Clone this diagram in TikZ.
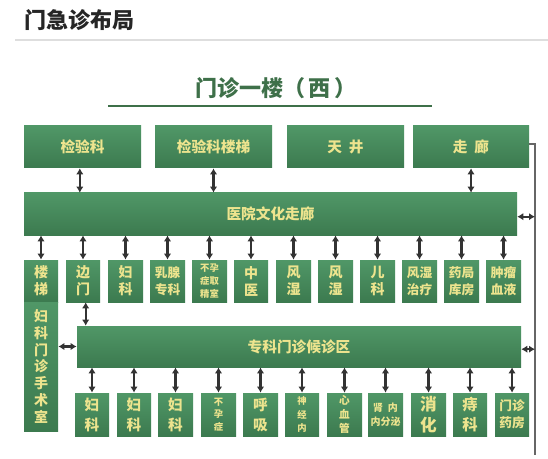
\documentclass[tikz,border=0pt]{standalone}
\usepackage{fontspec}
\newfontfamily\cjk{Noto Sans CJK SC}
\usetikzlibrary{arrows.meta}
\definecolor{gtop}{HTML}{509767}
\definecolor{gbot}{HTML}{3C7A4F}
\definecolor{tx}{HTML}{EDE48E}
\definecolor{ttl}{HTML}{3E7049}
\definecolor{arr}{HTML}{333333}
\newcommand\gbox[7][]{\node[gbox, #1, minimum width={(#5-#3)*0.75pt}, minimum height={(#6-#4)*0.75pt}] (#2) at ({(#3+#5)/2},{(#4+#6)/2}) {#7};}
\tikzset{
  gbox/.style={rectangle, draw=none, top color=gtop, bottom color=gbot, text=tx, inner sep=0pt, align=center, font=\cjk\bfseries\fontsize{10.5}{12.75}\selectfont},
  dar/.style={draw=arr, line width=1.6pt, {Latex[length=4.5pt,width=5.5pt]}-{Latex[length=4.5pt,width=5.5pt]}},
}
\begin{document}
\begin{tikzpicture}[x=0.75pt,y=-0.75pt]
\useasboundingbox (0,0) rectangle (548,459);
\fill[white] (0,0) rectangle (548,459);
% header
\node[anchor=west, text=black!85, font=\cjk\bfseries\fontsize{16.5}{19}\selectfont, inner sep=0pt] (title) at (24,20) {门急诊布局};
\draw[black!13, line width=0.8pt] (15,40) -- (548,40);
\node[text=ttl, font=\cjk\bfseries\fontsize{16.5}{19}\selectfont, inner sep=0pt] (sub) at (276,88) {门诊一楼（\,西\,）};
\draw[ttl, line width=1.4pt] (108,106) -- (432,106);
% top row
\gbox[font=\cjk\bfseries\fontsize{11}{13}\selectfont]{jyk}{24}{126}{141}{168}{检验科}
\gbox[font=\cjk\bfseries\fontsize{11}{13}\selectfont]{jykl}{155}{126}{272}{168}{检验科楼梯}
\gbox[font=\cjk\bfseries\fontsize{11}{13}\selectfont]{tj}{287}{126}{404}{168}{天\ \ 井}
\gbox[font=\cjk\bfseries\fontsize{11}{13}\selectfont]{zl}{413}{126}{529}{168}{走\ \ 廊}
% corridor
\gbox[font=\cjk\bfseries\fontsize{11}{13}\selectfont]{yy}{24}{193}{517}{235}{医院文化走廊}
% second row
\gbox{lt}{24}{260}{58}{302}{楼\\梯}
\gbox[font=\cjk\bfseries\fontsize{10.5}{12.6}\selectfont]{fsk}{24}{302}{58}{431}{妇\\科\\门\\诊\\手\\术\\室}
\gbox{bm}{66}{260}{100}{302}{边\\门}
\gbox{a3}{108}{260}{143}{302}{妇\\科}
\gbox[font=\cjk\bfseries\fontsize{9.5}{12.75}\selectfont]{a4}{150}{260}{185}{302}{乳腺\\专科}
\gbox[font=\cjk\bfseries\fontsize{7}{9.5}\selectfont]{a5}{192}{260}{227}{302}{不孕\\症取\\精室}
\gbox{a6}{234}{260}{268}{302}{中\\医}
\gbox{a7}{276}{260}{311}{302}{风\\湿}
\gbox{a8}{318}{260}{353}{302}{风\\湿}
\gbox{a9}{360}{260}{395}{302}{儿\\科}
\gbox[font=\cjk\bfseries\fontsize{9.5}{12.75}\selectfont]{a10}{402}{260}{437}{302}{风湿\\治疗}
\gbox[font=\cjk\bfseries\fontsize{9.5}{12.75}\selectfont]{a11}{444}{260}{479}{302}{药局\\库房}
\gbox[font=\cjk\bfseries\fontsize{9.5}{12.75}\selectfont]{a12}{486}{260}{521}{302}{肿瘤\\血液}
% specialist waiting area
\gbox[font=\cjk\bfseries\fontsize{11}{13}\selectfont]{zk}{77}{326}{521}{367}{专科门诊候诊区}
% bottom row
\gbox[font=\cjk\bfseries\fontsize{11}{15}\selectfont]{b1}{75}{393}{109}{436}{妇\\科}
\gbox[font=\cjk\bfseries\fontsize{11}{15}\selectfont]{b2}{117}{393}{151}{436}{妇\\科}
\gbox[font=\cjk\bfseries\fontsize{11}{15}\selectfont]{b3}{158}{393}{193}{436}{妇\\科}
\gbox[font=\cjk\bfseries\fontsize{7}{9.5}\selectfont]{b4}{201}{393}{236}{436}{不\\孕\\症}
\gbox[font=\cjk\bfseries\fontsize{11}{15}\selectfont]{b5}{243}{393}{278}{436}{呼\\吸}
\gbox[font=\cjk\bfseries\fontsize{7}{10}\selectfont]{b6}{285}{393}{319}{436}{神\\经\\内}
\gbox[font=\cjk\bfseries\fontsize{8}{10.5}\selectfont]{b7}{327}{393}{362}{436}{心\\血\\管}
\gbox[font=\cjk\bfseries\fontsize{7.5}{10.5}\selectfont]{b8}{368}{393}{403}{436}{肾\ \ 内\\内分泌}
\gbox[font=\cjk\bfseries\fontsize{12.5}{16}\selectfont]{b9}{411}{393}{446}{436}{消\\化}
\gbox[font=\cjk\bfseries\fontsize{11.5}{15}\selectfont]{b10}{453}{393}{487}{436}{痔\\科}
\gbox[font=\cjk\bfseries\fontsize{9.5}{13}\selectfont]{b11}{495}{393}{529}{436}{门诊\\药房}
% right vertical line
\coordinate (r1) at (535,144);
\coordinate (r2) at (535,455);
\draw[black!60, line width=1.3pt] (zl.east |- r1) -- (r1) -- (r2);
% arrows top
\draw[dar] ([xshift=-2pt]jyk.south) -- ([xshift=-2pt]jyk.south |- yy.north);
\draw[dar] (jykl.south) -- (jykl.south |- yy.north);
\draw[dar] (zl.south) -- (zl.south |- yy.north);
\draw[dar] ([yshift=-2pt]yy.east) -- ([yshift=-2pt]yy.east -| r1);
% arrows to second row
\foreach \n in {lt,bm,a3,a4,a5,a6,a7,a8,a9,a10,a11,a12}
  \draw[dar] (\n.north |- yy.south) -- (\n.north);
\draw[dar] ([xshift=2pt]bm.south) -- ([xshift=2pt]bm.south |- zk.north);
\draw[dar] (zk.west -| fsk.east) -- (zk.west);
\draw[dar] ([yshift=-2pt]zk.east) -- ([yshift=-2pt]zk.east -| r1);
% arrows to bottom row
\foreach \n in {b1,b2,b3,b4,b5,b6,b7,b8,b9,b10,b11}
  \draw[dar] (\n.north |- zk.south) -- (\n.north);
\end{tikzpicture}
\end{document}
